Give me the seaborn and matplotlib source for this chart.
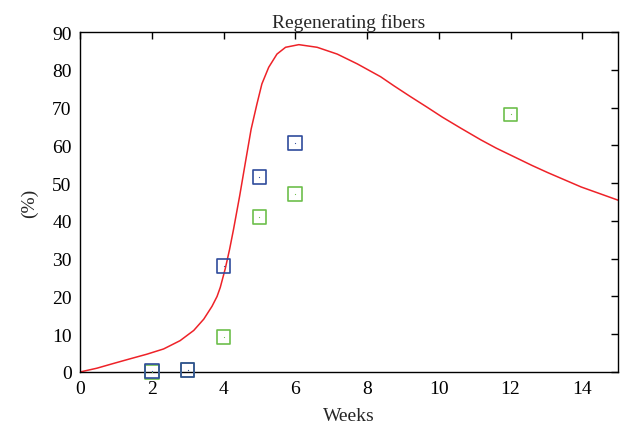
import matplotlib
matplotlib.use("Agg")
import matplotlib.pyplot as plt
import seaborn as sns
import pandas as pd

# Model curve
curve_weeks = [0, 0.47, 0.93, 1.40, 1.86, 2.33, 2.79, 3.17, 3.45, 3.68, 3.82, 3.91, 4.05,
               4.17, 4.28, 4.45, 4.61, 4.77, 4.93, 5.07, 5.26, 5.49, 5.73, 6.1, 6.61, 7.17,
               7.73, 8.38, 8.75, 9.2, 9.68, 10.1, 10.61, 11.17, 11.6, 12.1, 12.6, 13.04,
               13.97, 14.5, 15.0]
curve_pct = [0, 1.0, 2.25, 3.5, 4.7, 6.1, 8.3, 11.0, 14.0, 17.4, 20.0, 22.4, 27.4,
             32.5, 37.8, 46.6, 55.5, 64.3, 70.9, 76.3, 80.7, 84.2, 86.0, 86.7, 86.0, 84.2,
             81.6, 78.2, 75.8, 73.0, 70.1, 67.5, 64.6, 61.5, 59.3, 57.0, 54.7, 52.8,
             49.0, 47.2, 45.5]

# Observations
blue_weeks = [2, 3, 4, 5, 6]
blue_pct = [0.2, 0.5, 28.1, 51.6, 60.7]
green_weeks = [2, 3, 4, 5, 6, 12]
green_pct = [0.0, 0.5, 9.3, 41.0, 47.2, 68.2]

xticks = [0, 2, 4, 6, 8, 10, 12, 14]
yticks = [0, 10, 20, 30, 40, 50, 60, 70, 80, 90]

sns.set_style("white")
plt.rcParams['font.family'] = ['Liberation Serif', 'DejaVu Serif']

fig = plt.figure(figsize=(6.25, 4.31), dpi=100)
ax = fig.add_axes([0.128, 0.1346, 0.861, 0.7884])

RED = "#ee2228"
BLUE = "#2f4c9c"
GREEN = "#6dbf4b"

sns.lineplot(x=curve_weeks, y=curve_pct, ax=ax, color=RED, linewidth=1.1, sort=False)

dfg = pd.DataFrame({"w": green_weeks, "p": green_pct})
dfb = pd.DataFrame({"w": blue_weeks, "p": blue_pct})
for df, col in [(dfg, GREEN), (dfb, BLUE)]:
    sns.scatterplot(data=df, x="w", y="p", ax=ax, marker="s", s=95,
                    facecolors="none", edgecolor=col, linewidth=1.2, zorder=3,
                    clip_on=False)
    sns.scatterplot(data=df, x="w", y="p", ax=ax, marker=".", s=3,
                    color=col, linewidth=0, zorder=3, clip_on=False)

ax.set_xlim(0, 15)
ax.set_ylim(0, 90)
ax.set_xticks(xticks)
ax.set_yticks(yticks)
ax.tick_params(direction="in", length=5, width=1, top=True, right=True,
               labelsize=14, colors="black", pad=6)
for s in ax.spines.values():
    s.set_visible(True)
    s.set_color("black")
    s.set_linewidth(1)

ax.set_title("Regenerating fibers", fontsize=14, pad=4)
ax.set_xlabel("Weeks", fontsize=14, labelpad=7)
ax.set_ylabel("(%)", fontsize=14, labelpad=10)

fig.savefig("out.png", dpi=100)
